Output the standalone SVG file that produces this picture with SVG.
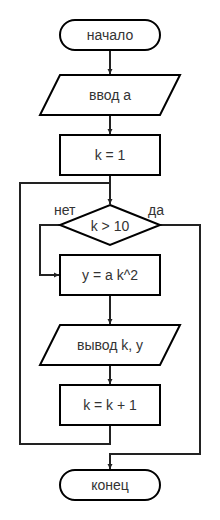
<svg xmlns="http://www.w3.org/2000/svg" width="220" height="520" viewBox="0 0 220 520">
<defs>
<style>
.s{fill:#fff;stroke:#000;stroke-width:2}
.t{font-family:"Liberation Sans",Arial,sans-serif;font-size:14px;fill:#333;text-anchor:middle;dominant-baseline:central}
.l{font-family:"Liberation Sans",Arial,sans-serif;font-size:14px;fill:#333}
.c{fill:none;stroke:#222;stroke-width:2}
</style>
<marker id="a" markerWidth="6" markerHeight="6" refX="5" refY="3" orient="auto" markerUnits="userSpaceOnUse"><path d="M0,0.5 L5,3 L0,5.5 Z" fill="#222"/></marker>
</defs>
<rect width="220" height="520" fill="#fff"/>
<g id="connectors">
<line class="c" x1="110" y1="50" x2="110" y2="74" marker-end="url(#a)"/>
<line class="c" x1="110" y1="115" x2="110" y2="134" marker-end="url(#a)"/>
<line class="c" x1="110" y1="175" x2="110" y2="204" marker-end="url(#a)"/>
<polyline class="c" points="60,225 40,225 40,275 59,275" marker-end="url(#a)"/>
<polyline class="c" points="160,225 200,225 200,454 110,454 110,469" marker-end="url(#a)"/>
<line class="c" x1="110" y1="295" x2="110" y2="324" marker-end="url(#a)"/>
<line class="c" x1="110" y1="365" x2="110" y2="384" marker-end="url(#a)"/>
<polyline class="c" points="110,425 110,444 20,444 20,183 110,183"/>
</g>
<g id="start"><rect class="s" x="60" y="20" width="100" height="30" rx="15"/><text class="t" x="110" y="35">начало</text></g>
<g id="input"><polygon class="s" points="60,75 180,75 160,115 40,115"/><text class="t" x="110" y="95">ввод а</text></g>
<g id="init"><rect class="s" x="60" y="135" width="100" height="40"/><text class="t" x="110" y="155">k = 1</text></g>
<g id="cond"><polygon class="s" points="110,205 160,225 110,245 60,225"/><text class="t" x="110" y="226">k &gt; 10</text>
<text class="l" x="54" y="215">нет</text><text class="l" x="148" y="215">да</text></g>
<g id="calc"><rect class="s" x="60" y="255" width="100" height="40"/><text class="t" x="110" y="275">y = a k^2</text></g>
<g id="output"><polygon class="s" points="60,325 180,325 160,365 40,365"/><text class="t" x="110" y="345">вывод k, y</text></g>
<g id="inc"><rect class="s" x="60" y="385" width="100" height="40"/><text class="t" x="110" y="405">k = k + 1</text></g>
<g id="end"><rect class="s" x="60" y="470" width="100" height="30" rx="15"/><text class="t" x="110" y="485">конец</text></g>
</svg>
